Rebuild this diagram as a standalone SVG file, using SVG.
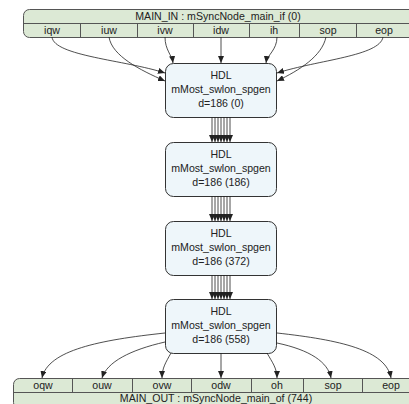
<svg xmlns="http://www.w3.org/2000/svg" width="409" height="404" viewBox="0 0 409 404">
<style>
text{font-family:"Liberation Sans",Arial,sans-serif;font-size:10.6px;fill:#222;text-anchor:middle}
.port{fill:#dce9d5;stroke:#555;stroke-width:1}
.div{stroke:#555;stroke-width:1}
.node rect{fill:#eef6fa;stroke:#333;stroke-width:1}
.edge{fill:none;stroke:#222;stroke-width:0.8;marker-end:url(#ah)}
</style>
<defs>
<marker id="ah" markerUnits="userSpaceOnUse" markerWidth="7" markerHeight="6" refX="7" refY="3" orient="auto">
<path d="M0,0 L7,3 L0,6 z" fill="#222"/>
</marker>
</defs>
<g id="main_in">
<rect class="port" x="23.5" y="9.5" width="400" height="28" rx="6"/>
<line class="div" x1="23.5" y1="23.5" x2="409" y2="23.5"/>
<line class="div" x1="80.5" y1="23.5" x2="80.5" y2="37.5"/>
<line class="div" x1="137.5" y1="23.5" x2="137.5" y2="37.5"/>
<line class="div" x1="193.5" y1="23.5" x2="193.5" y2="37.5"/>
<line class="div" x1="249.5" y1="23.5" x2="249.5" y2="37.5"/>
<line class="div" x1="299.5" y1="23.5" x2="299.5" y2="37.5"/>
<line class="div" x1="356.5" y1="23.5" x2="356.5" y2="37.5"/>
<text x="218" y="20">MAIN_IN : mSyncNode_main_if (0)</text>
<text x="52" y="34">iqw</text>
<text x="109" y="34">iuw</text>
<text x="165" y="34">ivw</text>
<text x="221" y="34">idw</text>
<text x="274" y="34">ih</text>
<text x="328" y="34">sop</text>
<text x="384" y="34">eop</text>
</g>
<g id="node0" class="node">
<rect x="165.5" y="63.5" width="111" height="54" rx="8"/>
<text x="221" y="79">HDL</text>
<text x="221" y="92.5">mMost_swlon_spgen</text>
<text x="221" y="106.5">d=186 (0)</text>
</g>
<g id="node1" class="node">
<rect x="165.5" y="142.5" width="111" height="54" rx="8"/>
<text x="221" y="158">HDL</text>
<text x="221" y="171.5">mMost_swlon_spgen</text>
<text x="221" y="185.5">d=186 (186)</text>
</g>
<g id="node2" class="node">
<rect x="165.5" y="221.5" width="111" height="54" rx="8"/>
<text x="221" y="237">HDL</text>
<text x="221" y="250.5">mMost_swlon_spgen</text>
<text x="221" y="264.5">d=186 (372)</text>
</g>
<g id="node3" class="node">
<rect x="165.5" y="299.5" width="111" height="54" rx="8"/>
<text x="221" y="315">HDL</text>
<text x="221" y="328.5">mMost_swlon_spgen</text>
<text x="221" y="342.5">d=186 (558)</text>
</g>
<g id="main_out">
<rect class="port" x="13.5" y="378.5" width="410" height="30" rx="6"/>
<line class="div" x1="13.5" y1="392.5" x2="409" y2="392.5"/>
<line class="div" x1="72.5" y1="378.5" x2="72.5" y2="392.5"/>
<line class="div" x1="132.5" y1="378.5" x2="132.5" y2="392.5"/>
<line class="div" x1="191.5" y1="378.5" x2="191.5" y2="392.5"/>
<line class="div" x1="251.5" y1="378.5" x2="251.5" y2="392.5"/>
<line class="div" x1="303.5" y1="378.5" x2="303.5" y2="392.5"/>
<line class="div" x1="362.5" y1="378.5" x2="362.5" y2="392.5"/>
<text x="43" y="389">oqw</text>
<text x="102" y="389">ouw</text>
<text x="162" y="389">ovw</text>
<text x="221" y="389">odw</text>
<text x="277" y="389">oh</text>
<text x="333" y="389">sop</text>
<text x="391" y="389">eop</text>
<text x="216" y="402">MAIN_OUT : mSyncNode_main_of (744)</text>
</g>
<g id="connectors">
<path class="edge" d="M52,37 C54,56 125,60 165,73"/>
<path class="edge" d="M109,37 C112,56 140,70 165,81"/>
<path class="edge" d="M165,37 C165,50 172,55 173,63"/>
<path class="edge" d="M221,37 L221,63"/>
<path class="edge" d="M277,37 C277,50 267,55 266,63"/>
<path class="edge" d="M326,37 C322,56 300,70 277,81"/>
<path class="edge" d="M383,37 C380,56 318,60 277,73"/>
<g id="bus01">
<path class="edge" d="M212,117 L212,142"/><path class="edge" d="M215,117 L215,142"/><path class="edge" d="M218,117 L218,142"/><path class="edge" d="M221,117 L221,142"/><path class="edge" d="M224,117 L224,142"/><path class="edge" d="M227,117 L227,142"/><path class="edge" d="M230,117 L230,142"/>
</g>
<g id="bus12">
<path class="edge" d="M212,196 L212,221"/><path class="edge" d="M215,196 L215,221"/><path class="edge" d="M218,196 L218,221"/><path class="edge" d="M221,196 L221,221"/><path class="edge" d="M224,196 L224,221"/><path class="edge" d="M227,196 L227,221"/><path class="edge" d="M230,196 L230,221"/>
</g>
<g id="bus23">
<path class="edge" d="M212,275 L212,299"/><path class="edge" d="M215,275 L215,299"/><path class="edge" d="M218,275 L218,299"/><path class="edge" d="M221,275 L221,299"/><path class="edge" d="M224,275 L224,299"/><path class="edge" d="M227,275 L227,299"/><path class="edge" d="M230,275 L230,299"/>
</g>
<path class="edge" d="M165,333 C100,340 48,350 42,378"/>
<path class="edge" d="M165,342 C130,350 107,362 102,378"/>
<path class="edge" d="M171,353 C166,362 162,368 162,378"/>
<path class="edge" d="M221,353 L221,378"/>
<path class="edge" d="M267,353 C272,362 277,368 277,378"/>
<path class="edge" d="M277,343 C310,350 328,362 331,378"/>
<path class="edge" d="M277,333 C340,340 386,350 391,378"/>
</g>
</svg>
